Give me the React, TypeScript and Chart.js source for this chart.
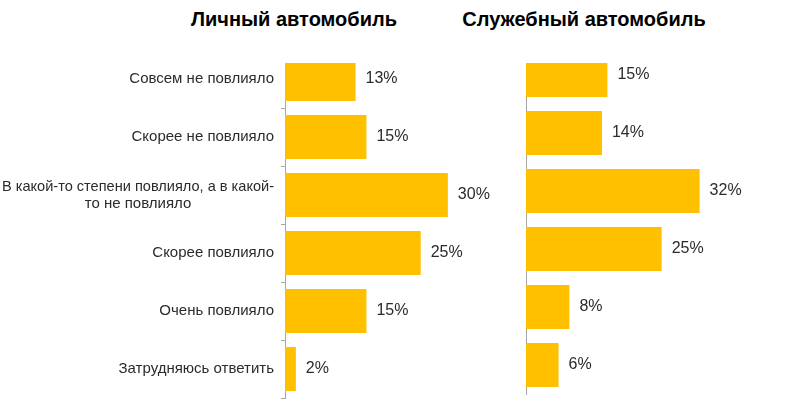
import React, { useEffect, useRef } from "react";
import { Chart, registerables } from "chart.js";

Chart.register(...registerables);

const categoryLines: string[][] = [
  ["Совсем не повлияло"],
  ["Скорее не повлияло"],
  ["В какой-то степени повлияло, а в какой-", "то не повлияло"],
  ["Скорее повлияло"],
  ["Очень повлияло"],
  ["Затрудняюсь ответить"],
];
const personalCar: number[] = [13, 15, 30, 25, 15, 2];
const companyCar: number[] = [15, 14, 32, 25, 8, 6];
const titlePersonal = "Личный автомобиль";
const titleCompany = "Служебный автомобиль";

const FONT = "'Liberation Sans', Arial, sans-serif";
const BAR = "#FFC000";
const TEXT = "#2b2b2b";
const AXIS = "#A6A6A6";

const valueLabelPlugin = {
  id: "valueLabels",
  afterDatasetsDraw(chart: any) {
    const ctx = chart.ctx;
    const meta = chart.getDatasetMeta(0);
    const data = chart.data.datasets[0].data as number[];
    ctx.save();
    ctx.font = `16px ${FONT}`;
    ctx.fillStyle = TEXT;
    ctx.textAlign = "left";
    ctx.textBaseline = "middle";
    meta.data.forEach((bar: any, i: number) => {
      ctx.fillText(`${data[i]}%`, bar.x + 10, bar.y);
    });
    ctx.restore();
  },
};

const categoryLabelPlugin = {
  id: "categoryLabels",
  afterDraw(chart: any) {
    const ctx = chart.ctx;
    const yScale = chart.scales.y;
    const right = yScale.right - 11;
    const maxAllowed = right - 2;
    ctx.save();
    ctx.font = `15px ${FONT}`;
    ctx.fillStyle = TEXT;
    ctx.textAlign = "left";
    ctx.textBaseline = "middle";
    const lineH = 17;
    categoryLines.forEach((lines, i) => {
      const y = yScale.getPixelForValue(i);
      const widths = lines.map((l) => Math.min(ctx.measureText(l).width, maxAllowed));
      const blockW = Math.max(...widths);
      const cx = right - blockW / 2;
      lines.forEach((l, k) => {
        const ly = y + (k - (lines.length - 1) / 2) * lineH;
        const w = widths[k];
        ctx.fillText(l, cx - w / 2, ly, w);
      });
    });
    ctx.restore();
  },
};

function makeConfig(values: number[], opts: { axisWidth: number; xMax: number; padTop: number; padBottom: number; padRight: number; ticks: boolean; labels: boolean }) {
  return {
    type: "bar" as const,
    data: {
      labels: categoryLines.map((l) => l.join(" ")),
      datasets: [
        {
          data: values,
          backgroundColor: BAR,
          borderWidth: 0,
          barPercentage: 0.76,
          categoryPercentage: 1,
        },
      ],
    },
    options: {
      indexAxis: "y" as const,
      animation: false as const,
      responsive: true,
      maintainAspectRatio: false,
      layout: { padding: { left: 0, right: opts.padRight, top: opts.padTop, bottom: opts.padBottom } },
      plugins: { legend: { display: false }, tooltip: { enabled: false }, title: { display: false } },
      scales: {
        x: { display: false, min: 0, max: opts.xMax },
        y: {
          afterFit(scale: any) {
            scale.width = opts.axisWidth;
          },
          ticks: { display: false },
          grid: {
            display: true,
            drawOnChartArea: false,
            drawTicks: opts.ticks,
            tickLength: opts.ticks ? 4 : 0,
            color: AXIS,
            offset: true,
          },
          border: { display: true, color: AXIS, width: 1 },
        },
      },
    },
    plugins: opts.labels ? [valueLabelPlugin, categoryLabelPlugin] : [valueLabelPlugin],
  };
}

function BarPanel(props: { values: number[]; left: number; width: number; cfg: any }) {
  const ref = useRef<HTMLCanvasElement | null>(null);
  useEffect(() => {
    if (!ref.current) return;
    const chart = new Chart(ref.current, makeConfig(props.values, props.cfg) as any);
    return () => chart.destroy();
  }, []);
  return (
    <div style={{ position: "absolute", left: props.left, top: 0, width: props.width, height: 402 }}>
      <canvas ref={ref} />
    </div>
  );
}

export default function App() {
  const titleStyle: React.CSSProperties = {
    position: "absolute",
    top: 10,
    transform: "translateX(-50%)",
    whiteSpace: "nowrap",
    font: `bold 20px ${FONT}`,
    lineHeight: "19px",
    color: "#000",
  };
  return (
    <div style={{ position: "fixed", left: 0, top: 0, width: 800, height: 402, background: "#fff", overflow: "hidden" }}>
      <BarPanel
        values={personalCar}
        left={0}
        width={500}
        cfg={{ axisWidth: 285, xMax: 35, padTop: 50, padBottom: 4, padRight: 25, ticks: true, labels: true }}
      />
      <BarPanel
        values={companyCar}
        left={500}
        width={300}
        cfg={{ axisWidth: 26, xMax: 40, padTop: 46, padBottom: 8, padRight: 57, ticks: false, labels: false }}
      />
      <div style={{ position: "absolute", left: 0, top: 0, width: 800, height: 63, background: "#fff" }}>
        <span style={{ ...titleStyle, left: 294 }}>{titlePersonal}</span>
        <span style={{ ...titleStyle, left: 584 }}>{titleCompany}</span>
      </div>
    </div>
  );
}
